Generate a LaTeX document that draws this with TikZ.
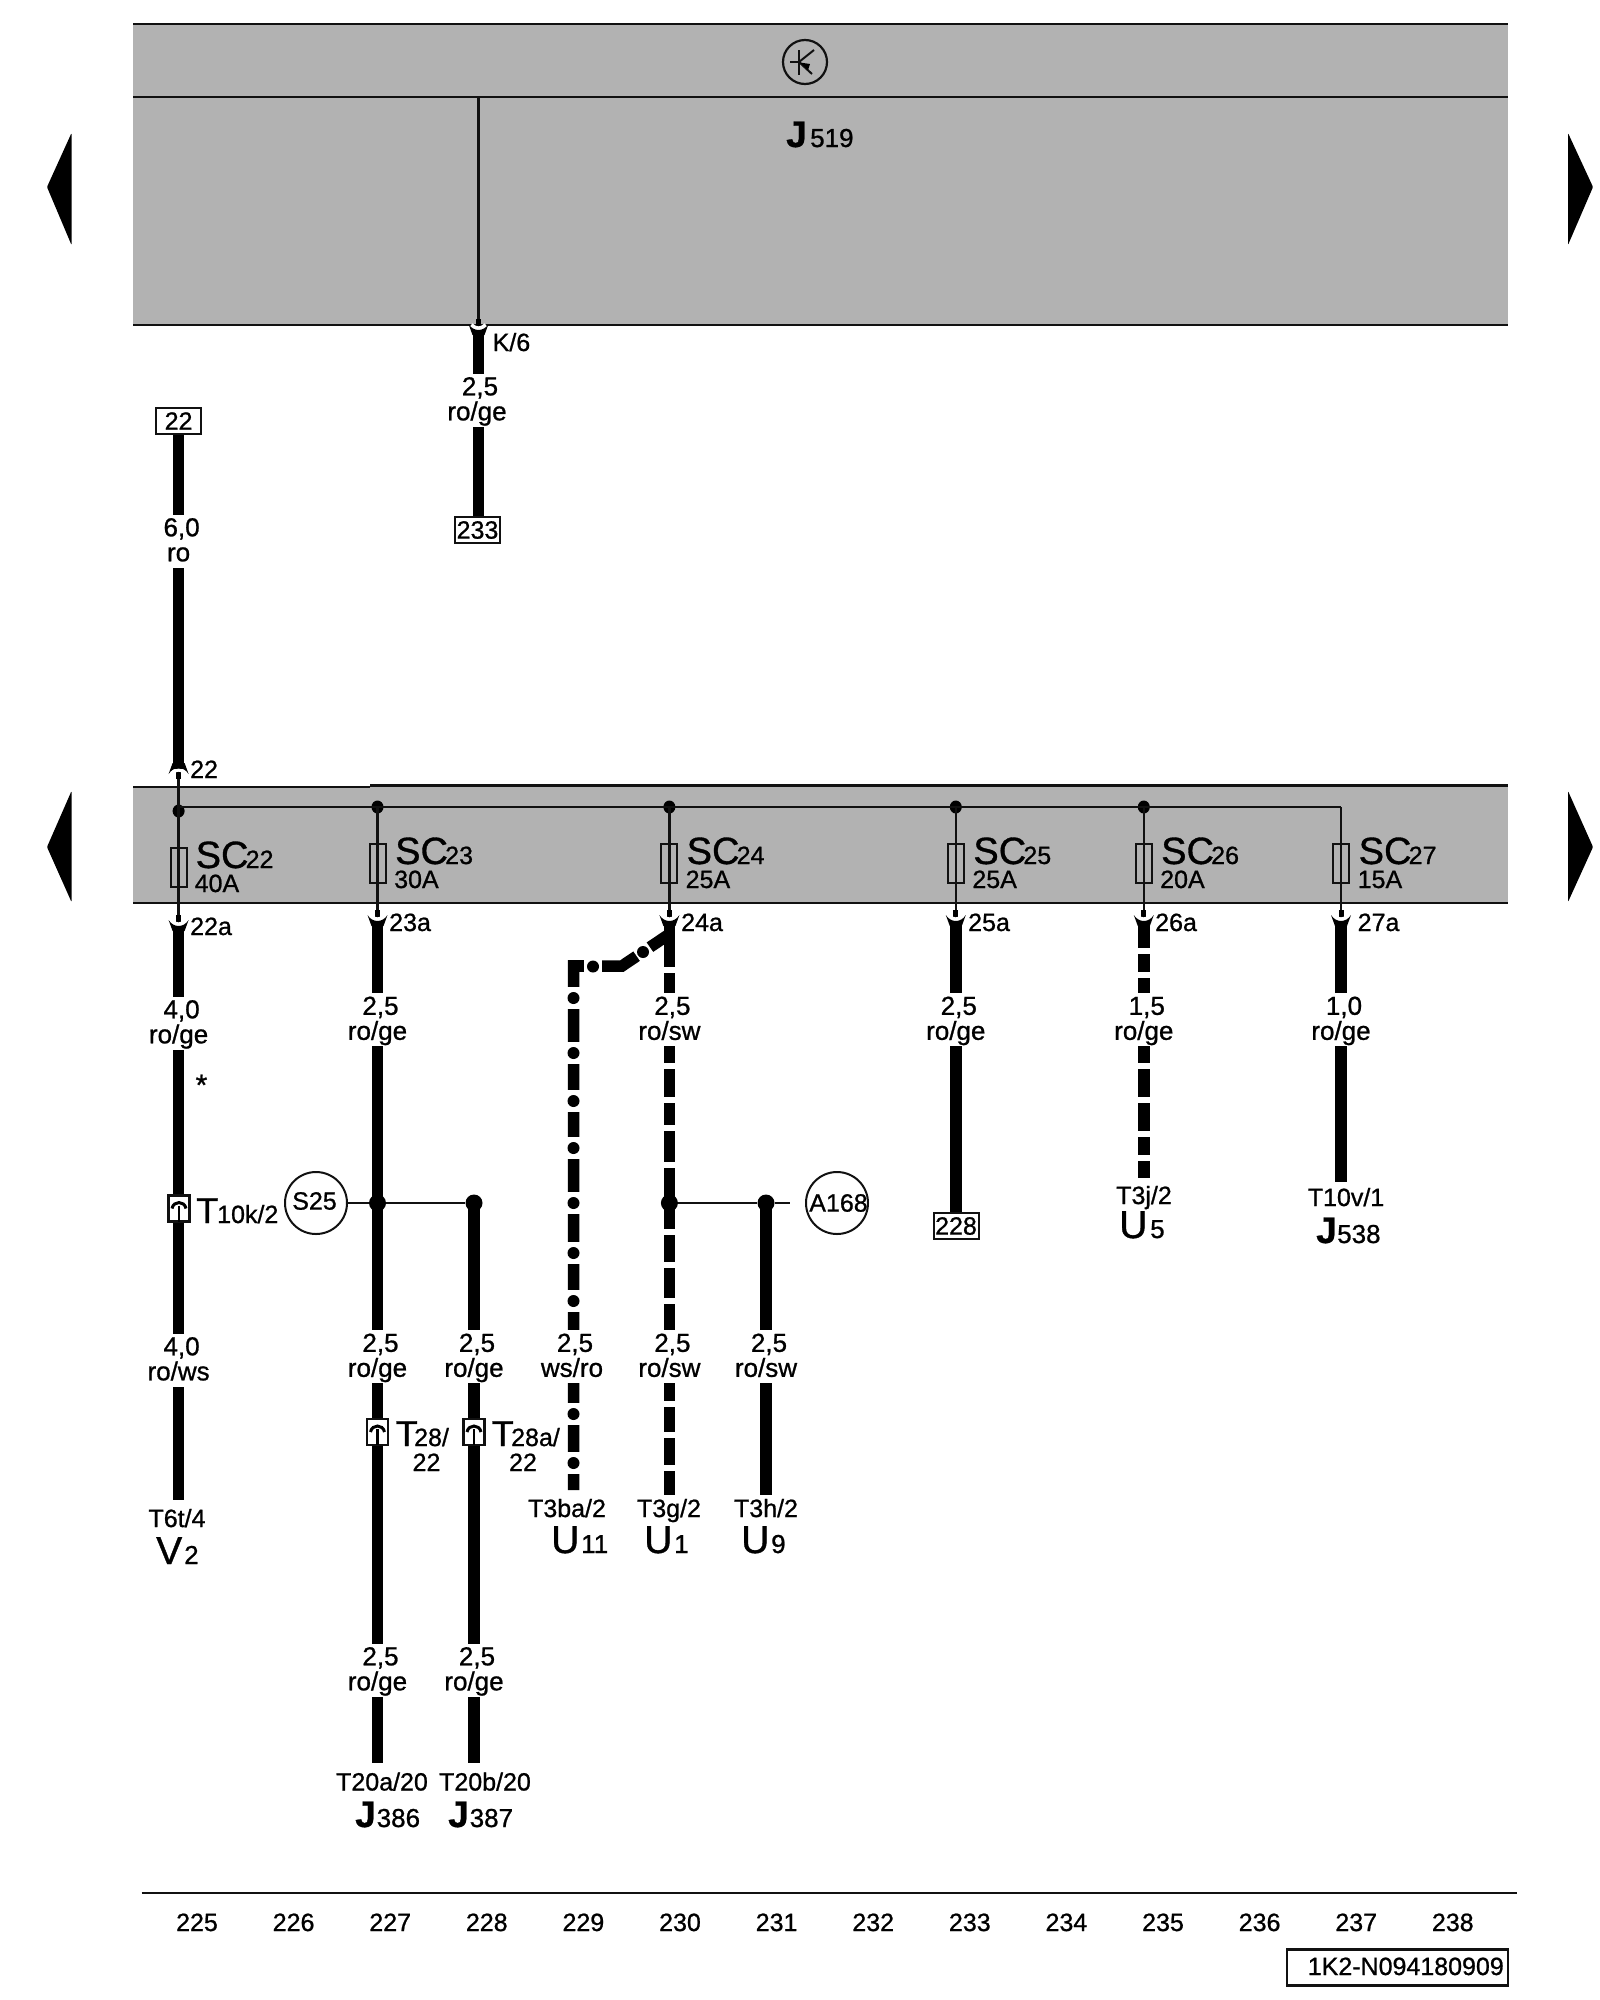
\documentclass[tikz,border=0pt]{standalone}
\usepackage{fontspec}
\setmainfont{Liberation Sans}
\newcommand{\tsize}[1]{\fontsize{#1}{#1}\selectfont\addfontfeature{FakeBold=0.9}}
\newcommand{\wlt}[2]{\rule{0pt}{21pt}\hspace*{6pt}#1\\#2\vphantom{g}}
\definecolor{bandgray}{HTML}{B2B2B2}
\definecolor{ink}{HTML}{111111}
\usetikzlibrary{shapes.geometric}
\tikzset{
  wire/.style={line width=11.5pt,draw=black,line cap=butt},
  gapmark/.style={line width=14pt,draw=white},
  thinwire/.style={line width=2.5pt,draw=ink},
  rule/.style={line width=2.2pt,draw=ink},
  tag/.style={font=\tsize{25},inner sep=0pt,text=black},
  subtag/.style={font=\tsize{26},inner sep=0pt,text=black},
  wl/.style={font=\fontsize{26}{25}\selectfont\addfontfeature{FakeBold=0.9},align=center,fill=white,inner sep=0pt,minimum height=53pt,text=black},
  refbox/.style={draw=ink,line width=2pt,fill=white,font=\tsize{25},inner sep=0pt,minimum width=45pt,minimum height=26pt},
  fusebox/.style={draw=ink,line width=2pt,inner sep=0pt,minimum width=16pt,minimum height=39pt},
  busdot/.style={ellipse,fill=black,inner sep=0pt,minimum width=12pt,minimum height=13pt},
  bigdot/.style={ellipse,fill=black,inner sep=0pt,minimum width=17pt,minimum height=17pt},
  smalldot/.style={circle,fill=black,inner sep=0pt,minimum size=12pt},
  sensor/.style={circle,draw=ink,line width=2pt,fill=white,inner sep=0pt,minimum size=62pt},
  cupconn/.pic={
    \draw[black,line width=5pt] (0,-10) -- (0,-3);
    \draw[white,line width=3pt] (-7,-4.5) .. controls (-3,0) and (3,0) .. (7,-4.5);
    \fill[black] (-10,-5) .. controls (-5,3) and (5,3) .. (10,-5) -- (6,6) -- (-6,6) -- cycle;
  },
  boxconn/.pic={
    \draw[ink,line width=2.2pt,fill=white] (-10.5,-13) rectangle (10.5,13);
    \draw[black,line width=3pt] (-7,0) .. controls (-5.5,-8) and (5.5,-8) .. (7,0);
    \draw[black,line width=2.2pt] (0,-3) -- (0,13);
  }
}
\begin{document}
\begin{tikzpicture}[x=1pt,y=-1pt]
\useasboundingbox (0,0) rectangle (1600,2000);
% ---- bands
\fill[bandgray] (133,24) rectangle (1508,325);
\fill[bandgray] (133,786) rectangle (1508,903);
\draw[rule] (133,24) -- (1508,24);
\draw[rule] (133,97) -- (1508,97);
\draw[rule] (133,325) -- (1508,325);
\draw[rule] (133,787) -- (370,787);
\draw[rule] (370,785.5) -- (1508,785.5);
\draw[rule] (133,903) -- (1508,903);
% ---- page arrows
\fill[black,rounded corners=1pt] (71.5,133) -- (47,187) -- (71.5,245) -- cycle;
\fill[black,rounded corners=1pt] (1568,133) -- (1593,187) -- (1568,245) -- cycle;
\fill[black,rounded corners=1pt] (71.5,791) -- (47,847) -- (71.5,902) -- cycle;
\fill[black,rounded corners=1pt] (1568,791) -- (1593,847) -- (1568,902) -- cycle;
% ---- transistor symbol
\node[circle,draw=ink,line width=2.2pt,minimum size=44pt,inner sep=0pt] (tsym) at (805,62) {};
\draw[ink,line width=2pt] (799,50) -- (799,75);
\draw[ink,line width=2pt] (790,62) -- (799,62);
\draw[ink,line width=2pt] (799,62) -- (814,50);
\draw[ink,line width=2pt] (799,62) -- (812,74);
\fill[black] (808,70) -- (800,62.5) -- (810,64) -- cycle;
\node[tag,anchor=base west,font=\bfseries\tsize{37}] (j519a) at (786,147) {J};
\node[subtag,anchor=base west] (j519b) at (810,147) {519};
% ---- K/6 wire
\coordinate (k6top) at (478.5,97);
\coordinate (k6cup) at (478.5,329);
\node[refbox] (b233) at (477.5,530) {233};
\draw[wire] (478.5,334) -- (b233.north -| k6cup);
\draw[thinwire] (k6top) -- (k6cup);
\pic at (k6cup) {cupconn};
\node[tag,anchor=base west] (k6) at (492.5,351) {K/6};
\node[wl] (lk6) at (477,400) {\wlt{2,5}{ro/ge}};
% ---- wire 22
\node[refbox] (b22) at (178.6,421) {22};
\coordinate (c22u) at (178.6,769);
\draw[wire] (b22.south) -- (c22u);
\node[wl] (l22) at (178.6,541) {\wlt{6,0}{ro}};
\node[tag,anchor=base west] (t22) at (190,778) {22};
% ---- bus
\node[busdot] (d22) at (178.6,811) {};
\node[busdot] (d23) at (377.5,807) {};
\node[busdot] (d24) at (669.4,807) {};
\node[busdot] (d25) at (955.8,807) {};
\node[busdot] (d26) at (1143.8,807) {};
\coordinate (d27) at (1341,807);
\draw[thinwire] (178.6,807) -- (d23.center) -- (d24.center) -- (d25.center) -- (d26.center) -- (d27);
% ---- fuses
\node[fusebox] (f22) at (178.6,867.5) {};
\node[fusebox] (f23) at (377.5,863) {};
\node[fusebox] (f24) at (669.4,863) {};
\node[fusebox] (f25) at (955.8,863) {};
\node[fusebox] (f26) at (1143.8,863) {};
\node[fusebox] (f27) at (1341,863) {};
% ---- cups under band
\coordinate (c22) at (178.6,925);
\coordinate (c23) at (377.5,920);
\coordinate (c24) at (669.4,920);
\coordinate (c25) at (955.8,920);
\coordinate (c26) at (1143.8,920);
\coordinate (c27) at (1341,920);
\draw[thinwire] (c22u) -- (d22.center) -- (c22);
\draw[thinwire] (d23.center) -- (c23);
\draw[thinwire] (d24.center) -- (c24);
\draw[thinwire] (d25.center) -- (c25);
\draw[thinwire] (d26.center) -- (c26);
\draw[thinwire] (d27) -- (c27);
\pic[yscale=-1] at (c22u) {cupconn};
% ---- SC labels
\foreach \nm/\x/\y/\sub/\amp in {a/195.5/868/22/40A,b/395/864/23/30A,c/686.5/864/24/25A,d/973.2/864/25/25A,e/1161/864/26/20A,f/1358.5/864/27/15A}{
  \node[tag,anchor=base west,font=\tsize{38}] (sc\nm) at (\x,\y) {SC};
  \node[tag,anchor=base west] (sub\nm) at (\x+50,\y) {\sub};
  \node[tag,anchor=base west] (amp\nm) at (\x-1,\y+24) {\amp};
}
% ---- connector names
\node[tag,anchor=base west] (n22a) at (190,935) {22a};
\node[tag,anchor=base west] (n23a) at (389,931) {23a};
\node[tag,anchor=base west] (n24a) at (681,931) {24a};
\node[tag,anchor=base west] (n25a) at (968,931) {25a};
\node[tag,anchor=base west] (n26a) at (1155,931) {26a};
\node[tag,anchor=base west] (n27a) at (1357.5,931) {27a};
% ---- wire ends
\coordinate (e22) at (178.6,1500);
\coordinate (e23) at (377.5,1763);
\coordinate (s28) at (474,1203);
\coordinate (e28) at (474,1763);
\coordinate (e29) at (573.5,1490);
\coordinate (e30) at (669.4,1495);
\coordinate (s31) at (766,1203);
\coordinate (e31) at (766,1495);
\coordinate (e26) at (1143.8,1178);
\coordinate (e27) at (1341,1182);
\node[refbox] (b228) at (956,1226) {228};
% ---- thick wires
\draw[wire] (178.6,930) -- (e22);
\draw[wire] (377.5,925) -- (e23);
\draw[wire] (s28) -- (e28);
\draw[wire] (669.4,925) -- (e30);
\draw[wire] (s31) -- (e31);
\draw[wire] (955.8,925) -- (b228.north -| c25);
\draw[wire] (1143.8,925) -- (e26);
\draw[wire] (1341,925) -- (e27);
\draw[wire,line join=miter] (668,935) -- (622,966) -- (573.5,966) -- (e29);
\draw[wire] (567.7,966) -- (590,966);
\pic at (c22) {cupconn};
\pic at (c23) {cupconn};
\pic at (c24) {cupconn};
\pic at (c25) {cupconn};
\pic at (c26) {cupconn};
\pic at (c27) {cupconn};
% dashes on 230
\foreach \y in {969.5,1065.5,1099.5,1127.5,1164.5,1231.5,1265,1301,1403.5,1435,1467.5}{
  \draw[white,line width=14pt] (669.4,\y-3) -- (669.4,\y+3);
}
% dashes on 26a
\foreach \y in {951,974.5,1066,1099.5,1133.5,1157.5}{
  \draw[white,line width=14pt] (1143.8,\y-3) -- (1143.8,\y+3);
}
% dash-dot on 229
\foreach \y in {998,1053,1101,1148,1203,1253,1301,1414,1463}{
  \draw[gapmark] (573.5,\y-11) -- (573.5,\y+11);
  \node[smalldot] at (573.5,\y) {};
}
\draw[gapmark] (584,966) -- (602,966);
\node[smalldot] (dd1) at (593,966.5) {};
\draw[gapmark] (637,956.5) -- (650,947.5);
\node[smalldot] (dd2) at (643,952) {};
% ---- branch lines and splices
\node[sensor] (s25) at (316,1203) {};
\node[tag] (s25t) at (314.5,1201) {S25};
\node[sensor] (a168) at (837,1203) {};
\node[tag] (a168t) at (838.5,1203) {A168};
\coordinate (a168l) at (790,1203);
\node[bigdot] (j23) at (377.5,1203) {};
\node[bigdot] (j28) at (474,1203) {};
\node[bigdot] (j30) at (669.4,1203) {};
\node[bigdot] (j31) at (766,1203) {};
\draw[thinwire] (s25.east) -- (j23) -- (j28);
\draw[thinwire] (j30) -- (j31) -- (a168l);
% ---- inline connectors
\pic at (179,1208.5) {boxconn};
\pic at (377.5,1432) {boxconn};
\pic at (474,1432) {boxconn};
\node[tag,anchor=base west,font=\tsize{36}] (t10a) at (196,1223) {T};
\node[tag,anchor=base west] (t10b) at (217,1223) {10k/2};
\node[tag,anchor=base west,font=\tsize{36}] (t28a) at (395.5,1446) {T};
\node[tag,anchor=base west] (t28b) at (414,1446) {28/};
\node[tag,anchor=base] (t28c) at (426.5,1471) {22};
\node[tag,anchor=base west,font=\tsize{36}] (t29a) at (491.5,1446) {T};
\node[tag,anchor=base west] (t29b) at (511,1446) {28a/};
\node[tag,anchor=base] (t29c) at (523,1471) {22};
\node[tag,font=\tsize{30}] (star) at (201.5,1085) {*};
% ---- wire labels
\node[wl] (a1) at (178.6,1023) {\wlt{4,0}{ro/ge}};
\node[wl] (a2) at (178.6,1360) {\wlt{4,0}{ro/ws}};
\node[wl] (b1) at (377.5,1019.5) {\wlt{2,5}{ro/ge}};
\node[wl] (b2) at (377.5,1356.5) {\wlt{2,5}{ro/ge}};
\node[wl] (b3) at (377.5,1670) {\wlt{2,5}{ro/ge}};
\node[wl] (c2) at (474,1356.5) {\wlt{2,5}{ro/ge}};
\node[wl] (c3) at (474,1670) {\wlt{2,5}{ro/ge}};
\node[wl] (d2) at (572,1356.5) {\wlt{2,5}{ws/ro}};
\node[wl] (e1) at (669.4,1019.5) {\wlt{2,5}{ro/sw}};
\node[wl] (e2) at (669.4,1356.5) {\wlt{2,5}{ro/sw}};
\node[wl] (f2) at (766,1356.5) {\wlt{2,5}{ro/sw}};
\node[wl] (g1) at (955.8,1019.5) {\wlt{2,5}{ro/ge}};
\node[wl] (h1) at (1143.8,1019.5) {\wlt{1,5}{ro/ge}};
\node[wl] (i1) at (1341,1019.5) {\wlt{1,0}{ro/ge}};
% ---- terminals
\node[tag,anchor=base] (tt1) at (177,1527) {T6t/4};
\node[tag,anchor=base west,font=\tsize{39}] (v2a) at (156,1564) {V};
\node[subtag,anchor=base west] (v2b) at (184,1564) {2};
\node[tag,anchor=base] (tt2) at (382,1790.5) {T20a/20};
\node[tag,anchor=base west,font=\bfseries\tsize{37}] (j386a) at (355,1827) {J};
\node[subtag,anchor=base west] (j386b) at (376.5,1827) {386};
\node[tag,anchor=base] (tt3) at (485,1790.5) {T20b/20};
\node[tag,anchor=base west,font=\bfseries\tsize{37}] (j387a) at (448,1827) {J};
\node[subtag,anchor=base west] (j387b) at (469.5,1827) {387};
\node[tag,anchor=base] (tt4) at (567,1517) {T3ba/2};
\node[tag,anchor=base west,font=\tsize{39}] (u11a) at (551,1553) {U};
\node[subtag,anchor=base west] (u11b) at (581,1553) {11};
\node[tag,anchor=base] (tt5) at (669,1517) {T3g/2};
\node[tag,anchor=base west,font=\tsize{39}] (u1a) at (644,1553) {U};
\node[subtag,anchor=base west] (u1b) at (674,1553) {1};
\node[tag,anchor=base] (tt6) at (766,1517) {T3h/2};
\node[tag,anchor=base west,font=\tsize{39}] (u9a) at (741,1553) {U};
\node[subtag,anchor=base west] (u9b) at (771,1553) {9};
\node[tag,anchor=base] (tt7) at (1144,1204) {T3j/2};
\node[tag,anchor=base west,font=\tsize{39}] (u5a) at (1119,1238) {U};
\node[subtag,anchor=base west] (u5b) at (1150,1238) {5};
\node[tag,anchor=base] (tt8) at (1346,1206) {T10v/1};
\node[tag,anchor=base west,font=\bfseries\tsize{37}] (j538a) at (1316,1243) {J};
\node[subtag,anchor=base west] (j538b) at (1337,1243) {538};
% ---- page footer
\draw[rule] (141.5,1893) -- (1517,1893);
\foreach \n [count=\i from 0] in {225,226,...,238}{
  \node[tag,anchor=base] (pg\n) at (197+\i*96.6,1931) {\n};
}
\node[draw=ink,line width=2.2pt,minimum width=221pt,minimum height=36pt,inner sep=0pt] (partbox) at (1397.5,1967.5) {};
\node[tag,anchor=base east] (part) at (1504,1975) {1K2-N094180909};
\end{tikzpicture}
\end{document}
